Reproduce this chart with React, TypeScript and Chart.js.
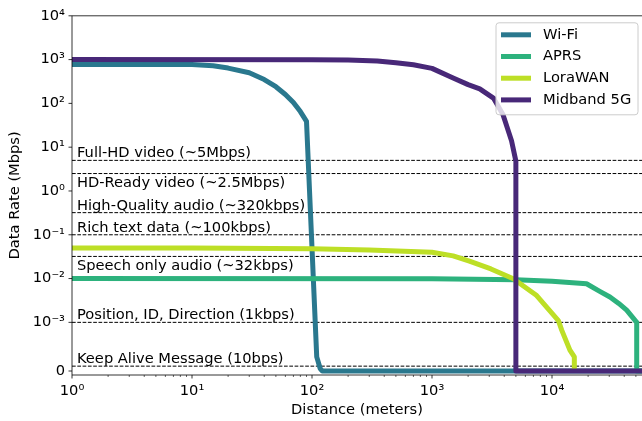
import { useEffect, useRef } from 'react';
import { Chart, Scale, registerables } from 'chart.js';

// ---- series: distance (m) and achievable data rate (Mbps) ----
const wifiDist = [1, 10, 15, 20, 30, 40, 50, 60, 70, 80, 90, 109.5, 117, 122, 60000];
const wifiRate = [770, 770, 720, 640, 500, 350, 240, 160, 105, 65, 39, 0.00029, 0.00005, 0, 0];

const aprsDist = [1, 1000, 5000, 10000, 19400, 25000, 30400, 36000, 41900, 50800, 50800, 60000];
const aprsRate = [0.01, 0.0099, 0.0094, 0.0087, 0.0076, 0.0051, 0.0038, 0.0027, 0.0019, 0.001, 0, 0];

const loraDist = [1, 10, 100, 300, 1000, 1500, 2050, 3100, 4760, 7450, 11300, 12050, 14100, 15350, 15350];
const loraRate = [0.05, 0.05, 0.048, 0.045, 0.04, 0.033, 0.025, 0.0166, 0.0099, 0.0041, 0.0011, 0.00084, 0.00043, 0.00029, 0.00001];

const midbandDist = [1, 100, 200, 350, 500, 700, 1000, 1500, 2000, 2500, 3250, 3900, 4600, 5000, 5000, 60000];
const midbandRate = [1000, 995, 975, 930, 850, 760, 630, 380, 268, 215, 132, 56, 14, 4.8, 0, 0];

const seriesNames = ['Wi-Fi', 'APRS', 'LoraWAN', 'Midband 5G'];
const seriesColors = ['#2a788e', '#2db27d', '#bddf26', '#482878'];

// ---- application requirement thresholds (Mbps) ----
const thresholdLabels = [
  'Full-HD video (~5Mbps)',
  'HD-Ready video (~2.5Mbps)',
  'High-Quality audio (~320kbps)',
  'Rich text data (~100kbps)',
  'Speech only audio (~32kbps)',
  'Position, ID, Direction (1kbps)',
  'Keep Alive Message (10bps)',
];
const thresholdRates = [5, 2.5, 0.32, 0.1, 0.032, 0.001, 0.0001];
// caption sits above (true) or below (false) its dashed line
const captionAbove = [true, false, true, true, false, true, true];

// ---- axes ----
const distTicks = [1, 10, 100, 1000, 10000];
const rateTicks = [0, 1e-3, 1e-2, 1e-1, 1, 10, 100, 1e3, 1e4];
const X_MIN = 1;
const X_MAX = 56234;
const Y_MIN = -8.2e-5;
const Y_MAX = 1e4;
const LABEL_X = 1.1;

const FONT_SIZE = 14.67;
const FONT = `${FONT_SIZE}px "DejaVu Sans"`;

// symmetric log transform: linear below LIN_THRESH, log10 above
const LIN_THRESH = 1e-3;
const LIN_SCALE = 1 / (1 - 1 / 10);

function symlogFwd(v: number): number {
  const a = Math.abs(v);
  if (a <= LIN_THRESH) return (v / LIN_THRESH) * LIN_SCALE;
  return Math.sign(v) * (LIN_SCALE + Math.log10(a / LIN_THRESH));
}
function symlogInv(t: number): number {
  const a = Math.abs(t);
  if (a <= LIN_SCALE) return (t / LIN_SCALE) * LIN_THRESH;
  return Math.sign(t) * LIN_THRESH * Math.pow(10, a - LIN_SCALE);
}

class SymlogScale extends Scale {
  static id = 'symlog';
  static defaults = {};

  determineDataLimits() {
    const { min, max } = (this as any).getMinMax(true);
    const o = (this as any).options;
    (this as any).min = typeof o.min === 'number' ? o.min : min;
    (this as any).max = typeof o.max === 'number' ? o.max : max;
  }
  buildTicks() {
    return [];
  }
  configure() {
    super.configure();
    const self = this as any;
    self._tStart = symlogFwd(self.min);
    self._tRange = symlogFwd(self.max) - self._tStart || 1;
  }
  getLabelForValue(value: number) {
    return String(value);
  }
  getPixelForValue(value: number) {
    const self = this as any;
    return self.getPixelForDecimal((symlogFwd(value) - self._tStart) / self._tRange);
  }
  getValueForPixel(pixel: number) {
    const self = this as any;
    return symlogInv(self._tStart + self.getDecimalForPixel(pixel) * self._tRange);
  }
}

Chart.register(...registerables, SymlogScale as any);

const SUP: Record<string, string> = {
  '-': '\u207b', '0': '\u2070', '1': '\u00b9', '2': '\u00b2', '3': '\u00b3',
  '4': '\u2074', '5': '\u2075', '6': '\u2076', '7': '\u2077', '8': '\u2078', '9': '\u2079',
};
function powLabel(v: number): string {
  if (v === 0) return '0';
  const e = Math.round(Math.log10(v));
  return '10' + String(e).split('').map((c) => SUP[c]).join('');
}

function points(xs: number[], ys: number[]) {
  return xs.map((x, i) => ({ x, y: ys[i] }));
}

const decorPlugin = {
  id: 'decor',
  beforeDatasetsDraw(chart: any) {
    const { ctx, chartArea } = chart;
    const ys = chart.scales.y;
    ctx.save();
    ctx.strokeStyle = '#000';
    ctx.lineWidth = 1;
    ctx.setLineDash([3.7, 1.6]);
    thresholdRates.forEach((r) => {
      const py = ys.getPixelForValue(r);
      ctx.beginPath();
      ctx.moveTo(chartArea.left, py);
      ctx.lineTo(chartArea.right, py);
      ctx.stroke();
    });
    ctx.restore();
  },
  afterDatasetsDraw(chart: any) {
    const { ctx, chartArea } = chart;
    const { left, right, top, bottom } = chartArea;
    const xs = chart.scales.x;
    const ys = chart.scales.y;
    ctx.save();

    // threshold captions
    ctx.font = FONT;
    ctx.fillStyle = '#000';
    ctx.textAlign = 'left';
    ctx.textBaseline = 'alphabetic';
    const tx = xs.getPixelForValue(LABEL_X);
    thresholdLabels.forEach((t, i) => {
      const py = ys.getPixelForValue(thresholdRates[i]);
      ctx.fillText(t, tx, captionAbove[i] ? py - 3 : py + 13.5);
    });

    // spines
    ctx.strokeStyle = '#000';
    ctx.lineWidth = 0.8;
    ctx.beginPath();
    ctx.moveTo(left, top);
    ctx.lineTo(left, bottom);
    ctx.moveTo(left, top);
    ctx.lineTo(right, top);
    ctx.moveTo(left, bottom);
    ctx.lineTo(right, bottom);
    ctx.stroke();

    // major ticks
    ctx.beginPath();
    distTicks.forEach((v) => {
      const px = xs.getPixelForValue(v);
      ctx.moveTo(px, bottom);
      ctx.lineTo(px, bottom + 3.5);
    });
    rateTicks.forEach((v) => {
      const py = ys.getPixelForValue(v);
      ctx.moveTo(left, py);
      ctx.lineTo(left - 3.5, py);
    });
    ctx.stroke();

    // minor ticks on the distance axis
    ctx.lineWidth = 0.6;
    ctx.beginPath();
    for (let d = 1; d <= X_MAX; d *= 10) {
      for (let m = 2; m <= 9; m++) {
        const v = d * m;
        if (v > X_MAX) break;
        const px = xs.getPixelForValue(v);
        ctx.moveTo(px, bottom);
        ctx.lineTo(px, bottom + 2);
      }
    }
    ctx.stroke();

    // legend
    const boxW = 142;
    const boxH = 92;
    const boxX = right - 4 - boxW;
    const boxY = top + 7;
    ctx.beginPath();
    ctx.roundRect(boxX, boxY, boxW, boxH, 3);
    ctx.fillStyle = 'rgba(255,255,255,0.8)';
    ctx.fill();
    ctx.strokeStyle = '#cccccc';
    ctx.lineWidth = 1;
    ctx.stroke();
    ctx.textBaseline = 'middle';
    seriesNames.forEach((name, i) => {
      const cy = boxY + 12 + i * 21.7;
      ctx.strokeStyle = seriesColors[i];
      ctx.lineWidth = 5;
      ctx.beginPath();
      ctx.moveTo(boxX + 5, cy);
      ctx.lineTo(boxX + 35, cy);
      ctx.stroke();
      ctx.fillStyle = '#000';
      ctx.fillText(name, boxX + 47, cy);
    });

    ctx.restore();
  },
};

export default function App() {
  const canvasRef = useRef<HTMLCanvasElement | null>(null);

  useEffect(() => {
    const canvas = canvasRef.current;
    if (!canvas) return;
    Chart.defaults.font.family = '"DejaVu Sans"';
    Chart.defaults.font.size = FONT_SIZE;
    Chart.defaults.color = '#000';

    const series = [
      points(wifiDist, wifiRate),
      points(aprsDist, aprsRate),
      points(loraDist, loraRate),
      points(midbandDist, midbandRate),
    ];

    const chart = new Chart(canvas, {
      type: 'line',
      data: {
        datasets: series.map((data, i) => ({
          label: seriesNames[i],
          data,
          borderColor: seriesColors[i],
          backgroundColor: seriesColors[i],
          borderWidth: 5,
          borderJoinStyle: 'round',
          pointRadius: 0,
          tension: 0,
          fill: false,
          order: seriesNames.length - i,
        })),
      },
      options: {
        responsive: false,
        maintainAspectRatio: false,
        devicePixelRatio: 1,
        animation: false,
        events: [],
        layout: { padding: { top: 14, right: 0, bottom: 0, left: 0 } },
        plugins: { legend: { display: false }, tooltip: { enabled: false } },
        scales: {
          x: {
            type: 'logarithmic',
            min: X_MIN,
            max: X_MAX,
            grid: { display: false, drawTicks: false },
            border: { display: false },
            afterBuildTicks: (s: any) => {
              s.ticks = distTicks.map((value) => ({ value }));
            },
            afterFit: (s: any) => {
              s.height = 46;
            },
            ticks: {
              padding: 7,
              maxRotation: 0,
              autoSkip: false,
              color: '#000',
              callback: (v: any) => powLabel(Number(v)),
            },
            title: {
              display: true,
              text: 'Distance (meters)',
              color: '#000',
              padding: { top: 0, bottom: 2 },
            },
          },
          y: {
            type: 'symlog',
            min: Y_MIN,
            max: Y_MAX,
            grid: { display: false, drawTicks: false },
            border: { display: false },
            afterBuildTicks: (s: any) => {
              s.ticks = rateTicks.map((value) => ({ value }));
            },
            afterFit: (s: any) => {
              s.width = 72;
            },
            ticks: {
              padding: 7,
              autoSkip: false,
              color: '#000',
              callback: (v: any) => powLabel(Number(v)),
            },
            title: {
              display: true,
              text: 'Data Rate (Mbps)',
              color: '#000',
              padding: { top: 6, bottom: 0 },
            },
          },
        } as any,
      },
      plugins: [decorPlugin],
    } as any);

    return () => chart.destroy();
  }, []);

  return (
    <div style={{ position: 'absolute', left: 0, top: 0, width: 642, height: 421, background: '#fff' }}>
      <canvas ref={canvasRef} width={642} height={421} />
    </div>
  );
}
